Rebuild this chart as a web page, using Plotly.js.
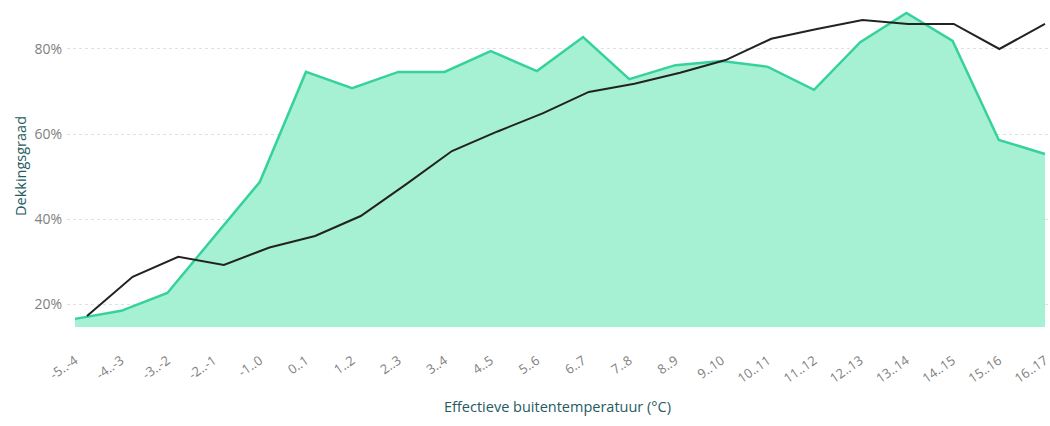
<!DOCTYPE html>
<html>
<head>
<meta charset="utf-8">
<script src="https://cdn.plot.ly/plotly-3.0.1.min.js"></script>
<style>html,body{margin:0;padding:0;background:#fff;}#chart{width:1050px;height:426px;}</style>
</head>
<body>
<div id="chart"></div>
<script>
const categories = ["-5..-4","-4..-3","-3..-2","-2..-1","-1..0","0..1","1..2","2..3","3..4","4..5","5..6","6..7","7..8","8..9","9..10","10..11","11..12","12..13","13..14","14..15","15..16","16..17"];
const coverageArea = [0.165,0.184,0.226,0.356,0.487,0.746,0.708,0.746,0.746,0.795,0.748,0.828,0.729,0.762,0.772,0.758,0.704,0.816,0.885,0.819,0.586,0.553];
const coverageLine = [0.172,0.264,0.311,0.292,0.333,0.360,0.407,0.482,0.560,0.606,0.649,0.699,0.718,0.744,0.774,0.824,0.847,0.868,0.859,0.859,0.800,0.859];
const yTicks = [0.2,0.4,0.6,0.8];

const font = "'Open Sans', 'Noto Sans', sans-serif";
const data = [
  {x: categories, y: coverageArea, type: 'scatter', mode: 'lines', fill: 'tozeroy',
   fillcolor: '#a6f0d4', line: {color: '#36d29c', width: 2.5}, xaxis: 'x', yaxis: 'y', hoverinfo: 'skip'},
  {x: categories, y: coverageLine, type: 'scatter', mode: 'lines',
   line: {color: '#222222', width: 2}, xaxis: 'x2', yaxis: 'y', hoverinfo: 'skip'}
];
const layout = {
  width: 1050, height: 426,
  margin: {l: 67, r: 2, t: 5, b: 99},
  paper_bgcolor: '#ffffff', plot_bgcolor: '#ffffff',
  showlegend: false,
  font: {family: font, color: '#808080', size: 12},
  xaxis: {
    type: 'category', range: [-0.1732, 21.065], showgrid: false, zeroline: false, showline: false,
    tickangle: -35, ticks: 'outside', ticklen: 20, tickcolor: 'rgba(0,0,0,0)',
    tickfont: {family: font, size: 13, color: '#808080'},
    title: {text: 'Effectieve buitentemperatuur (°C)', font: {family: font, size: 14.5, color: '#255a61'}, standoff: 16}
  },
  xaxis2: {
    type: 'category', overlaying: 'x', range: [-0.4384, 21.066], showgrid: false, zeroline: false,
    showline: false, showticklabels: false, ticks: ''
  },
  yaxis: {
    range: [0.1459, 0.9035], tickvals: yTicks, tickformat: '.0%',
    showgrid: true, gridcolor: '#e0e0e0', griddash: 'dot', gridwidth: 1,
    zeroline: false, showline: false, ticks: '', ticklabelstandoff: 4,
    tickfont: {family: font, size: 14, color: '#808080'},
    title: {text: 'Dekkingsgraad', font: {family: font, size: 14.5, color: '#255a61'}, standoff: 4}
  }
};
Plotly.newPlot('chart', data, layout, {staticPlot: true, displayModeBar: false});
</script>
</body>
</html>
